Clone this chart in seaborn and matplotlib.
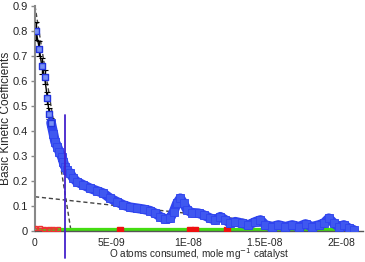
import matplotlib
matplotlib.use("Agg")
import matplotlib.pyplot as plt
import seaborn as sns
import numpy as np
import pandas as pd

# ---- data (x in units of 1E-9 mole/mg) ----
blue_x = [0.07, 0.28, 0.44, 0.63, 0.80, 0.93, 1.05, 1.20, 1.31, 1.46, 1.59, 1.75, 1.85, 1.96,
          2.07, 2.29, 2.50, 2.73, 3.16, 3.59, 4.03, 4.46, 4.90, 5.34, 5.77, 6.21, 6.65, 7.08,
          7.52, 7.84, 8.17, 8.50, 8.82, 9.04, 9.26, 9.48, 9.69, 9.92, 10.24, 10.67, 11.00,
          11.44, 11.76, 12.09, 12.42, 12.75, 13.07, 13.51, 13.92, 14.38, 14.71, 15.03, 15.47,
          15.88, 16.34, 16.78, 17.21, 17.65, 18.08, 18.52, 18.84, 19.17, 19.50, 19.82, 20.15,
          20.48, 20.80]
blue_y = [0.80, 0.73, 0.66, 0.617, 0.533, 0.47, 0.433, 0.39, 0.357, 0.337, 0.317, 0.297, 0.277,
          0.257, 0.244, 0.231, 0.211, 0.197, 0.184, 0.171, 0.161, 0.151, 0.131, 0.117, 0.104,
          0.095, 0.091, 0.087, 0.081, 0.071, 0.057, 0.048, 0.051, 0.077, 0.111, 0.131, 0.111,
          0.084, 0.073, 0.071, 0.064, 0.051, 0.044, 0.057, 0.044, 0.031, 0.037, 0.031, 0.024,
          0.037, 0.044, 0.024, 0.017, 0.024, 0.017, 0.024, 0.017, 0.028, 0.017, 0.024, 0.031,
          0.051, 0.031, 0.017, 0.024, 0.011, 0.004]

err_x = [0.07, 0.28, 0.44, 0.63, 0.80, 0.93, 1.05, 1.20, 1.31, 1.46, 1.59, 1.75, 1.85, 1.96, 2.07, 2.29, 2.50]
err_y = [0.80, 0.73, 0.66, 0.617, 0.533, 0.47, 0.433, 0.39, 0.357, 0.337, 0.317, 0.297, 0.277, 0.257, 0.244, 0.231, 0.211]
err_e = [0.035, 0.03, 0.03, 0.028, 0.025, 0.022, 0.02, 0.018, 0.016, 0.015, 0.014, 0.013, 0.012, 0.011, 0.01, 0.01, 0.01]

green_x = [0.0, 5.35, np.nan, 5.80, 9.95, np.nan, 10.65, 12.35, np.nan, 12.70, 19.70]
green_y = [0.002, 0.002, np.nan, 0.002, 0.002, np.nan, 0.002, 0.002, np.nan, 0.002, 0.002]

red_x = [0.0, 0.3, 0.6, 0.9, 1.2, 1.5, 5.56, 10.13, 10.46, 12.53]
red_y = [0.012, 0.011, 0.010, 0.009, 0.008, 0.007, 0.003, 0.003, 0.003, 0.003]

fit1_x = [0.0, 2.35]
fit1_y = [0.90, 0.0]
fit2_x = [0.0, 20.5]
fit2_y = [0.137, 0.0]

vline_x = 1.96
vline_y = [-0.108, 0.464]

xticks = [0, 5, 10, 15, 20]
xticklabels = ["0", "5E-09", "1E-08", "1.5E-08", "2E-08"]
yticks = [0, 0.1, 0.2, 0.3, 0.4, 0.5, 0.6, 0.7, 0.8, 0.9]
yticklabels = ["0", "0.1", "0.2", "0.3", "0.4", "0.5", "0.6", "0.7", "0.8", "0.9"]

sns.set_theme(style="white")
plt.rcParams['font.family'] = ['Liberation Sans', 'DejaVu Sans']

fig = plt.figure(figsize=(3.65, 2.62), dpi=100)
ax = fig.add_axes([35/365, 1-231/262, (363-35)/365, (231-6)/262])

df_blue = pd.DataFrame({"x": blue_x, "y": blue_y})

# green band
ax.plot(green_x, green_y, color="#44DD11", lw=4.5, solid_capstyle="butt", zorder=2)
# red
ax.plot(red_x[:6], red_y[:6], color="#EE3333", lw=1, marker="s", ms=3.5, mfc="none", mec="#EE3333", zorder=3)
ax.plot(red_x[6:], red_y[6:], ls="none", marker="s", ms=4.5, color="#EE1111", zorder=3)

# fits
ax.plot(fit1_x, fit1_y, ls=(0, (3, 2)), color="#444444", lw=1, zorder=1)
ax.plot(fit2_x, fit2_y, ls=(0, (3, 2)), color="#444444", lw=1, zorder=1)

# black error series
ax.errorbar(err_x, err_y, yerr=err_e, color="black", lw=1, capsize=2.5, capthick=0.8, zorder=4)

# blue data
early = df_blue[df_blue.x <= 1.05]
late = df_blue[df_blue.x >= 1.05]
sns.lineplot(data=late, x="x", y="y", ax=ax, color="#2F44EE", lw=7, sort=False, zorder=5)
sns.scatterplot(data=late, x="x", y="y", ax=ax, marker="s", s=30, color="#3F58F0",
                edgecolor="#2F44EE", linewidth=0.6, zorder=6)
sns.scatterplot(data=early, x="x", y="y", ax=ax, marker="s", s=20, color="#7790F5",
                edgecolor="#2233DD", linewidth=1, zorder=6)

# vertical marker line
ax.plot([vline_x, vline_x], vline_y, color="#4422CC", lw=1.3, clip_on=False, zorder=7)

ax.set_xlim(0, 21.4)
ax.set_ylim(0, 0.9)
ax.set_xticks(xticks)
ax.set_xticklabels(xticklabels)
ax.set_yticks(yticks)
ax.set_yticklabels(yticklabels)
ax.tick_params(axis="y", length=3, width=1, color="#888888", labelsize=8, pad=2, left=True)
ax.tick_params(axis="x", length=0, labelsize=7.5, pad=5)
for s in ["top", "right"]:
    ax.spines[s].set_visible(False)
ax.spines["left"].set_color("#888888")
ax.spines["left"].set_linewidth(1.5)
ax.spines["bottom"].set_color("#555555")
ax.spines["bottom"].set_linewidth(1)
ax.set_xlabel("O atoms consumed, mole mg$^{-1}$ catalyst", fontsize=7.2, labelpad=-1)
ax.set_ylabel("Basic Kinetic Coefficients", fontsize=8.6)
ax.yaxis.set_label_coords(-0.069, 0.5)
ax.patch.set_alpha(0)

fig.savefig("out.png", dpi=100)
